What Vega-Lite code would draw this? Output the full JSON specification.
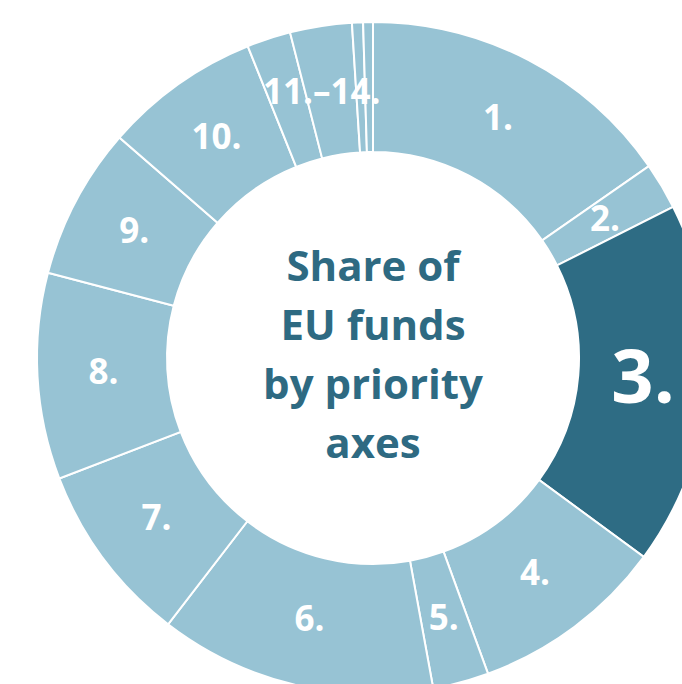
{
  "$schema": "https://vega.github.io/schema/vega-lite/v6.json",
  "width": 618,
  "height": 652,
  "autosize": {"type": "none"},
  "padding": {"left": 64, "top": 32, "right": 0, "bottom": 0},
  "background": "white",
  "config": {"view": {"stroke": null}},
  "datasets": {
    "segments": [
      {"n": 1, "axis": "1.", "share": 15.33},
      {"n": 2, "axis": "2.", "share": 2.25},
      {"n": 3, "axis": "3.", "share": 17.5},
      {"n": 4, "axis": "4.", "share": 9.36},
      {"n": 5, "axis": "5.", "share": 2.69},
      {"n": 6, "axis": "6.", "share": 13.31},
      {"n": 7, "axis": "7.", "share": 8.72},
      {"n": 8, "axis": "8.", "share": 9.92},
      {"n": 9, "axis": "9.", "share": 7.31},
      {"n": 10, "axis": "10.", "share": 7.53},
      {"n": 11, "axis": "11.", "share": 2.11},
      {"n": 12, "axis": "12.", "share": 2.97},
      {"n": 13, "axis": "13.", "share": 0.53},
      {"n": 14, "axis": "14.", "share": 0.47}
    ],
    "labels": [
      {"n": 1, "label": "1.", "share": 15.33},
      {"n": 2, "label": "2.", "share": 2.25},
      {"n": 3, "label": "3.", "share": 17.5},
      {"n": 4, "label": "4.", "share": 9.36},
      {"n": 5, "label": "5.", "share": 2.69},
      {"n": 6, "label": "6.", "share": 13.31},
      {"n": 7, "label": "7.", "share": 8.72},
      {"n": 8, "label": "8.", "share": 9.92},
      {"n": 9, "label": "9.", "share": 7.31},
      {"n": 10, "label": "10.", "share": 7.53},
      {"n": 11, "label": "11.–14.", "share": 6.08}
    ],
    "title": [
      {"t": "Share of EU funds by priority axes"}
    ]
  },
  "layer": [
    {
      "data": {"name": "segments"},
      "mark": {"type": "arc", "outerRadius": 336, "innerRadius": 206, "stroke": "white", "strokeWidth": 2},
      "encoding": {
        "theta": {"field": "share", "type": "quantitative", "stack": true},
        "order": {"field": "n", "type": "quantitative"},
        "color": {
          "condition": {"test": "datum.n === 3", "value": "#2e6c84"},
          "value": "#97c3d4"
        }
      }
    },
    {
      "data": {"name": "labels"},
      "mark": {"type": "text", "radius": 270, "fontWeight": "bold", "font": "Open Sans", "fontSize": 35, "color": "white", "align": "center", "baseline": "middle"},
      "encoding": {
        "theta": {"field": "share", "type": "quantitative", "stack": true},
        "order": {"field": "n", "type": "quantitative"},
        "text": {"field": "label", "type": "nominal"},
        "opacity": {
          "condition": {"test": "datum.n === 3", "value": 0},
          "value": 1
        }
      }
    },
    {
      "data": {"name": "labels"},
      "mark": {"type": "text", "radius": 271, "fontWeight": "bold", "font": "Open Sans", "fontSize": 74, "color": "white", "align": "center", "baseline": "middle"},
      "encoding": {
        "theta": {"field": "share", "type": "quantitative", "stack": true},
        "order": {"field": "n", "type": "quantitative"},
        "text": {"field": "label", "type": "nominal"},
        "opacity": {
          "condition": {"test": "datum.n === 3", "value": 1},
          "value": 0
        }
      }
    },
    {
      "data": {"name": "title"},
      "mark": {"type": "text", "text": ["Share of", "EU funds", "by priority", "axes"], "font": "Open Sans", "fontWeight": "bold", "fontSize": 42, "lineHeight": 59, "color": "#2e6a82", "align": "center", "baseline": "middle", "dy": -90},
      "encoding": {}
    }
  ]
}
